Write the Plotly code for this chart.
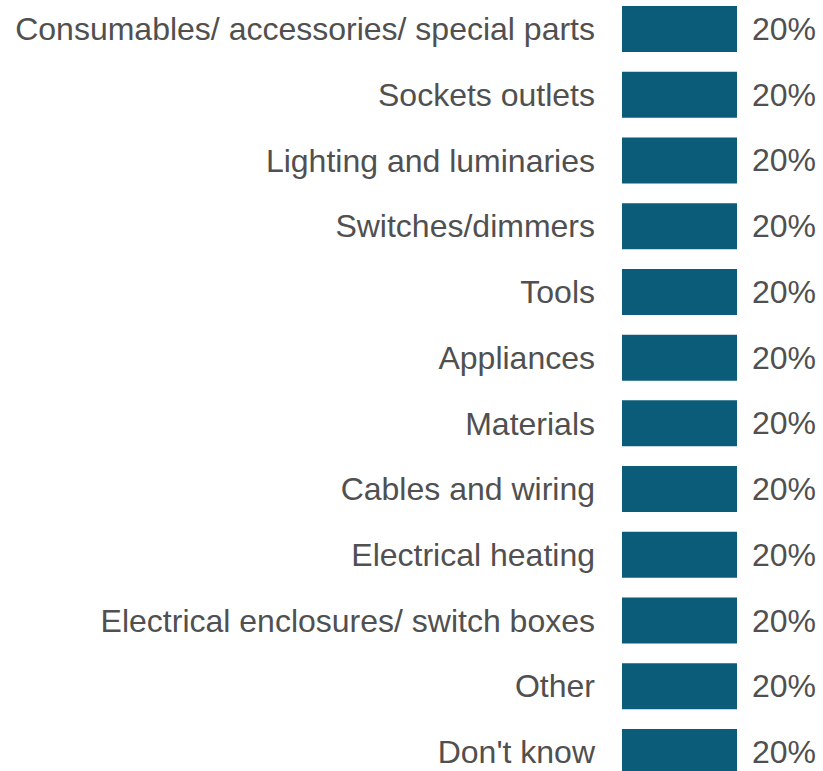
import plotly.graph_objects as go

categories = [
    "Consumables/ accessories/ special parts",
    "Sockets outlets",
    "Lighting and luminaries",
    "Switches/dimmers",
    "Tools",
    "Appliances",
    "Materials",
    "Cables and wiring",
    "Electrical heating",
    "Electrical enclosures/ switch boxes",
    "Other",
    "Don't know",
]
values = [20, 20, 20, 20, 20, 20, 20, 20, 20, 20, 20, 20]

BAR_COLOR = "#0B5C78"
TEXT_COLOR = "#505050"
FONT = "Liberation Sans, Arial, sans-serif"
FONT_SIZE = 32

fig = go.Figure(
    go.Bar(
        x=values,
        y=categories,
        orientation="h",
        marker=dict(color=BAR_COLOR, line=dict(width=0)),
        width=0.7,
        hoverinfo="skip",
    )
)

for cat, val in zip(categories, values):
    fig.add_annotation(
        x=val, y=cat, xref="x", yref="y",
        text=f"{val}%", showarrow=False,
        xanchor="left", xshift=13,
        font=dict(family=FONT, size=FONT_SIZE, color=TEXT_COLOR),
    )

fig.update_layout(
    width=823, height=771,
    margin=dict(l=622, r=0, t=0, b=0),
    paper_bgcolor="white", plot_bgcolor="white",
    showlegend=False,
    font=dict(family=FONT, size=FONT_SIZE, color=TEXT_COLOR),
    xaxis=dict(range=[0, 34.96], visible=False, fixedrange=True),
    yaxis=dict(
        categoryorder="array", categoryarray=categories,
        range=[11.289, -0.441],
        showgrid=False, zeroline=False, showline=False,
        ticks="", ticklabelstandoff=26,
        tickfont=dict(family=FONT, size=FONT_SIZE, color=TEXT_COLOR),
    ),
)

fig.write_html("out.html")
